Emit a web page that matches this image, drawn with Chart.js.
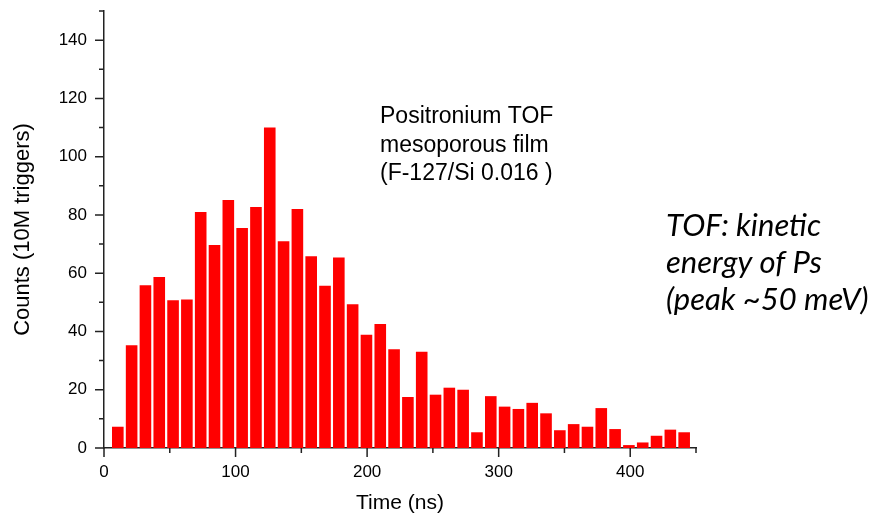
<!DOCTYPE html>
<html>
<head>
<meta charset="utf-8">
<script src="https://cdn.jsdelivr.net/npm/chart.js@4/dist/chart.umd.min.js"></script>
<style>
  html, body { margin: 0; padding: 0; background: #fff; }
  #wrap { width: 871px; height: 516px; }
</style>
</head>
<body>
<div id="wrap"><canvas id="tofChart" width="871" height="516"></canvas></div>
<script>
// bin centres (ns) and counts
const times = [10.5, 21, 31.5, 42, 52.5, 63, 73.5, 84, 94.5, 105, 115.5, 126, 136.5, 147,
  157.5, 168, 178.5, 189, 199.5, 210, 220.5, 231, 241.5, 252, 262.5, 273, 283.5, 294,
  304.5, 315, 325.5, 336, 346.5, 357, 367.5, 378, 388.5, 399, 409.5, 420, 430.5, 441];
const counts = [7.3, 35.3, 55.9, 58.7, 50.7, 51, 81, 69.7, 85.1, 75.5, 82.7, 110, 71, 82,
  65.8, 55.7, 65.4, 49.3, 38.9, 42.6, 33.9, 17.5, 33, 18.3, 20.7, 20, 5.4, 17.8,
  14.2, 13.4, 15.5, 11.9, 6.1, 8.2, 7.3, 13.7, 6.5, 1.0, 1.9, 4.2, 6.3, 5.4];

const xLabelStep = 100;
const yLabelStep = 20;
const noteLines = ["Positronium TOF", "mesoporous film", "(F-127/Si 0.016 )"];
const remarkLines = ["TOF: kinetic", "energy of Ps", "(peak ~50 meV)"];

Chart.defaults.font.family = "'Liberation Sans', Arial, sans-serif";
Chart.defaults.color = "#000";

// draws the outward tick marks (long on labelled ticks, short otherwise) and the notes
const extras = {
  id: "extras",
  afterDraw(chart) {
    const ctx = chart.ctx;
    const xs = chart.scales.x;
    const ys = chart.scales.y;
    ctx.save();
    ctx.strokeStyle = "#222";
    ctx.lineWidth = 1.5;
    ctx.beginPath();
    xs.ticks.forEach((t) => {
      const px = xs.getPixelForValue(t.value);
      const len = t.value % xLabelStep === 0 ? 9 : 5;
      ctx.moveTo(px, xs.top);
      ctx.lineTo(px, xs.top + len);
    });
    ys.ticks.forEach((t) => {
      const py = ys.getPixelForValue(t.value);
      const len = t.value % yLabelStep === 0 ? 9 : 5;
      ctx.moveTo(ys.right, py);
      ctx.lineTo(ys.right - len, py);
    });
    ctx.stroke();

    ctx.fillStyle = "#000";
    ctx.textAlign = "left";
    ctx.textBaseline = "alphabetic";
    ctx.font = "23px 'Liberation Sans', Arial, sans-serif";
    noteLines.forEach((s, i) => ctx.fillText(s, 380, 123 + i * 28.5));

    ctx.font = "italic 31px Lato, 'Open Sans', sans-serif";
    remarkLines.forEach((s, i) => ctx.fillText(s, 666, 236 + i * 37));
    ctx.restore();
  }
};

new Chart(document.getElementById("tofChart"), {
  type: "bar",
  data: {
    datasets: [
      {
        data: times.map((t, i) => ({ x: t, y: counts[i] })),
        backgroundColor: "#ff0000",
        borderWidth: 0,
        barPercentage: 0.84,
        categoryPercentage: 1.0,
      },
    ],
  },
  options: {
    responsive: false,
    animation: false,
    devicePixelRatio: 1,
    layout: { padding: { top: 11, right: 175, left: 0, bottom: 0 } },
    plugins: { legend: { display: false }, tooltip: { enabled: false } },
    scales: {
      x: {
        type: "linear",
        offset: false,
        min: 0,
        max: 450,
        grid: { display: false },
        border: { display: true, color: "#222", width: 1.5 },
        ticks: {
          stepSize: 50,
          padding: 6,
          font: { size: 17 },
          maxRotation: 0,
          autoSkip: false,
          callback: (v) => (v % xLabelStep === 0 ? v : ""),
        },
        title: {
          display: true,
          text: "Time (ns)",
          font: { size: 21 },
          padding: { top: 0, bottom: 0 },
        },
        afterFit: (s) => {
          s.height = 68;
          s.paddingLeft = 0;
          s.paddingRight = 0;
        },
      },
      y: {
        min: 0,
        max: 150,
        grid: { display: false },
        border: { display: true, color: "#222", width: 1.5 },
        ticks: {
          stepSize: 10,
          padding: 9,
          font: { size: 17 },
          autoSkip: false,
          callback: (v) => (v % yLabelStep === 0 ? v : ""),
        },
        title: {
          display: true,
          text: "Counts (10M triggers)",
          font: { size: 22 },
          padding: { top: 10, bottom: 0 },
        },
        afterFit: (s) => {
          s.width = 104;
          s.paddingTop = 0;
          s.paddingBottom = 0;
        },
      },
    },
  },
  plugins: [extras],
});
</script>
</body>
</html>
